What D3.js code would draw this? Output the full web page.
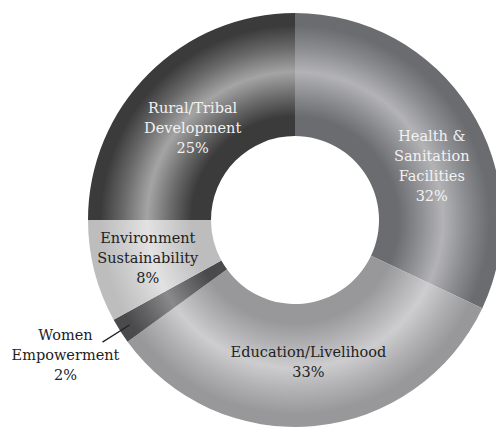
<!DOCTYPE html>
<html><head><meta charset="utf-8">
<script src="https://cdn.jsdelivr.net/npm/d3@7"></script>
<style>html,body{margin:0;padding:0;background:#fff;overflow:hidden}</style>
</head><body>
<svg id="chart" width="496" height="428"></svg>
<script>
const categories = ["Health & Sanitation Facilities","Education/Livelihood","Women Empowerment","Environment Sustainability","Rural/Tribal Development"];
const labelLines = [["Health &","Sanitation","Facilities"],["Education/Livelihood"],["Women","Empowerment"],["Environment","Sustainability"],["Rural/Tribal","Development"]];
const values = [32,33,2,8,25];
const percentLabels = ["32%","33%","2%","8%","25%"];

const baseColors = ["#6b6c70","#98989a","#4a4a4c","#bdbdbe","#3b3b3b"];
const highColors = ["#b3b3b6","#cdcdcf","#8a8a8c","#e2e2e3","#a4a4a4"];
const textColors = ["#f2f2f2","#222","#222","#222","#f2f2f2"];

const W=496,H=428, cx=295, cy=220, rOuter=207, rInner=84;
const svg=d3.select("#chart");
const defs=svg.append("defs");
const g=svg.append("g").attr("transform",`translate(${cx},${cy})`);

const pie=d3.pie().value(d=>d).sort(null);
const arcs=pie(values);
const arc=d3.arc().innerRadius(rInner).outerRadius(rOuter);

arcs.forEach((a,i)=>{
  const gr=defs.append("radialGradient").attr("id","grad"+i)
    .attr("gradientUnits","userSpaceOnUse").attr("cx",0).attr("cy",0).attr("r",rOuter).attr("fx",0).attr("fy",0);
  [[0,baseColors[i]],[0.5,baseColors[i]],[0.6,d3.interpolateRgb(baseColors[i],highColors[i])(0.45)],[0.715,highColors[i]],[0.83,d3.interpolateRgb(baseColors[i],highColors[i])(0.45)],[0.94,baseColors[i]],[1,baseColors[i]]]
    .forEach(s=>gr.append("stop").attr("offset",s[0]).attr("stop-color",s[1]));
});

g.selectAll("path.slice").data(arcs).enter().append("path")
  .attr("class","slice").attr("d",arc).attr("fill",(d,i)=>`url(#grad${i})`);

const font='"DejaVu Serif", serif';
const lineH=20;
const angleShift=[0.19,0,0,0,-0.05];
const labelR=[147,143,0,152,138];

arcs.forEach((a,i)=>{
  const lines=labelLines[i].concat([percentLabels[i]]);
  let x,y;
  if(i===2){
    const ang=(a.startAngle+a.endAngle)/2;
    const p0=[Math.sin(ang)*196,-Math.cos(ang)*196];
    const p1=[Math.sin(ang)*228,-Math.cos(ang)*228];
    g.append("line").attr("x1",p0[0]).attr("y1",p0[1]).attr("x2",p1[0]).attr("y2",p1[1])
      .attr("stroke","#222").attr("stroke-width",1.3);
    x=p1[0]-37; y=p1[1]+13;
  } else {
    const ang=(a.startAngle+a.endAngle)/2+angleShift[i];
    x=Math.sin(ang)*labelR[i]; y=-Math.cos(ang)*labelR[i];
  }
  const t=g.append("text").attr("text-anchor","middle").attr("font-family",font)
    .attr("font-size",14.5).attr("fill",textColors[i]);
  const y0=y-(lines.length-1)*lineH/2;
  lines.forEach((l,k)=>t.append("tspan").attr("x",x).attr("y",y0+k*lineH).attr("dy","0.35em").text(l));
});
</script>
</body></html>
